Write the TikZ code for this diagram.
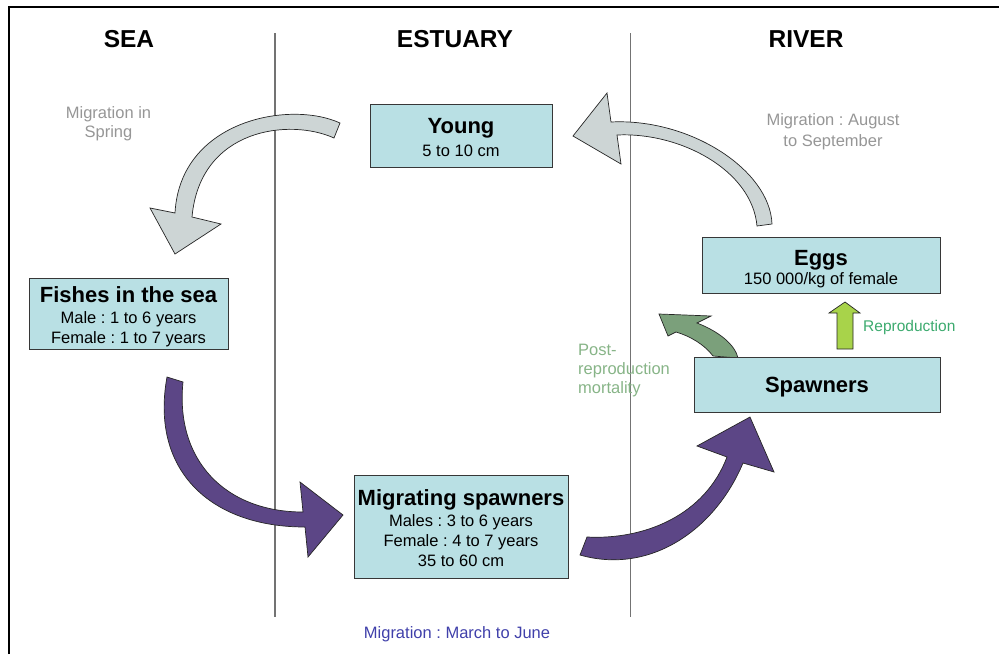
\documentclass[tikz,border=0pt]{standalone}
\usepackage{fontspec}
\setmainfont{Liberation Sans}
\frenchspacing
\definecolor{boxfill}{RGB}{185,224,228}
\definecolor{boxline}{RGB}{55,55,55}
\definecolor{grayarrow}{RGB}{205,213,213}
\definecolor{purplearrow}{RGB}{92,70,134}
\definecolor{mortgreen}{RGB}{123,160,123}
\definecolor{reprogreen}{RGB}{168,211,74}
\definecolor{graytext}{RGB}{150,150,150}
\definecolor{bluetext}{RGB}{64,64,170}
\definecolor{reprotext}{RGB}{60,170,110}
\definecolor{posttext}{RGB}{135,180,135}
\definecolor{sepline}{RGB}{115,115,115}
\begin{document}
\begin{tikzpicture}[x=1pt,y=-1pt,
  hdr/.style={font=\fontsize{24.5}{28}\selectfont\bfseries, anchor=base, inner sep=0},
  ttl/.style={font=\fontsize{22}{26}\selectfont\bfseries, anchor=base, inner sep=0},
  txt/.style={font=\fontsize{16.5}{20}\selectfont, anchor=base, inner sep=0},
  lbl/.style={font=\fontsize{16.5}{20}\selectfont, anchor=base, inner sep=0},
  box/.style={draw=boxline, fill=boxfill, line width=0.8pt, inner sep=0, outer sep=0},
  arrowline/.style={draw=black!85, line width=0.7pt, line join=miter}
]
\useasboundingbox (0,0) rectangle (999,654);
% frame
\draw[line width=2pt] (9,654) -- (9,7) -- (999,7);
% separators
\draw[sepline, line width=1.2pt] (275,33) -- (275,617);
\draw[sepline, line width=1.2pt] (630.5,33) -- (630.5,617);
% headers
\node[hdr] (sea) at (129,47) {SEA};
\node[hdr] (estuary) at (455,47) {ESTUARY};
\node[hdr] (river) at (806,47) {RIVER};
% gray arrow: young -> sea
\draw[arrowline, fill=grayarrow] (340,123) .. controls (290,100) and (180,120) .. (175,213)
  -- (150,208) -- (175,254) -- (221,224) -- (192,217)
  .. controls (200,128) and (290,118) .. (334,138) -- cycle;
% gray arrow: eggs -> young
\draw[arrowline, fill=grayarrow] (772,224) .. controls (770,170) and (690,118) .. (611,122)
  -- (607,93) -- (573,136) -- (621,164) -- (617,135)
  .. controls (680,132) and (752,170) .. (757,226) -- cycle;
% purple arrow: fishes -> migrating
\draw[arrowline, fill=purplearrow] (167,377) .. controls (150,470) and (210,527) .. (305,527)
  -- (308,557) -- (343,515) -- (300,482) -- (303,512)
  .. controls (225,512) and (175,460) .. (183,382) -- cycle;
% purple arrow: migrating -> spawners
\draw[arrowline, fill=purplearrow] (580,555) .. controls (650,575) and (715,530) .. (743,463)
  -- (774,472) -- (750,417) -- (697,446) -- (727,457)
  .. controls (705,515) and (645,540) .. (587,537) -- cycle;
% green mortality arrow
\draw[arrowline, fill=mortgreen] (713,356) .. controls (705,345) and (690,336) .. (676,332)
  -- (668,336) -- (659,314) -- (711,316) -- (697,323)
  .. controls (720,332) and (735,345) .. (738,358) -- cycle;
% reproduction arrow
\draw[arrowline, fill=reprogreen] (837,349) -- (837,313) -- (829,313) -- (845,302)
  -- (860,313) -- (853,313) -- (853,349) -- cycle;
% boxes
\node[box, minimum width=182, minimum height=63] (young) at (461,135.5) {};
\node[box, minimum width=199, minimum height=71] (fishes) at (128.5,313.5) {};
\node[box, minimum width=238, minimum height=56] (eggs) at (821,265) {};
\node[box, minimum width=246, minimum height=55] (spawners) at (817,384.5) {};
\node[box, minimum width=214, minimum height=103] (migr) at (461,526.5) {};
% box texts
\node[ttl] (youngt) at (461,133) {Young};
\node[txt] (youngs) at (461,156) {5 to 10 cm};
\node[ttl] (fishest) at (128.5,302) {Fishes in the sea};
\node[txt] (fishesa) at (128.5,323) {Male : 1 to 6 years};
\node[txt] (fishesb) at (128.5,343) {Female : 1 to 7 years};
\node[ttl] (eggst) at (821,265) {Eggs};
\node[txt] (eggss) at (821,284) {150 000/kg of female};
\node[ttl] (spawnerst) at (817,392) {Spawners};
\node[ttl] (migrt) at (461,505) {Migrating spawners};
\node[txt] (migra) at (461,526.5) {Males : 3 to 6 years};
\node[txt] (migrb) at (461,546.5) {Female : 4 to 7 years};
\node[txt] (migrc) at (461,566) {35 to 60 cm};
% labels
\node[lbl, text=graytext] (spring1) at (108.5,118) {Migration in};
\node[lbl, text=graytext] (spring2) at (108.5,137) {Spring};
\node[lbl, text=graytext] (aug1) at (833,125) {Migration : August};
\node[lbl, text=graytext] (aug2) at (833,146) {to September};
\node[lbl, text=reprotext, anchor=base west, font=\fontsize{15.5}{19}\selectfont] (repro) at (863,331) {Reproduction};
\node[lbl, text=posttext, anchor=base west] (post1) at (578,355) {Post-};
\node[lbl, text=posttext, anchor=base west] (post2) at (578,374) {reproduction};
\node[lbl, text=posttext, anchor=base west] (post3) at (578,393) {mortality};
\node[lbl, text=bluetext] (march) at (457,638) {Migration : March to June};
\end{tikzpicture}
\end{document}
